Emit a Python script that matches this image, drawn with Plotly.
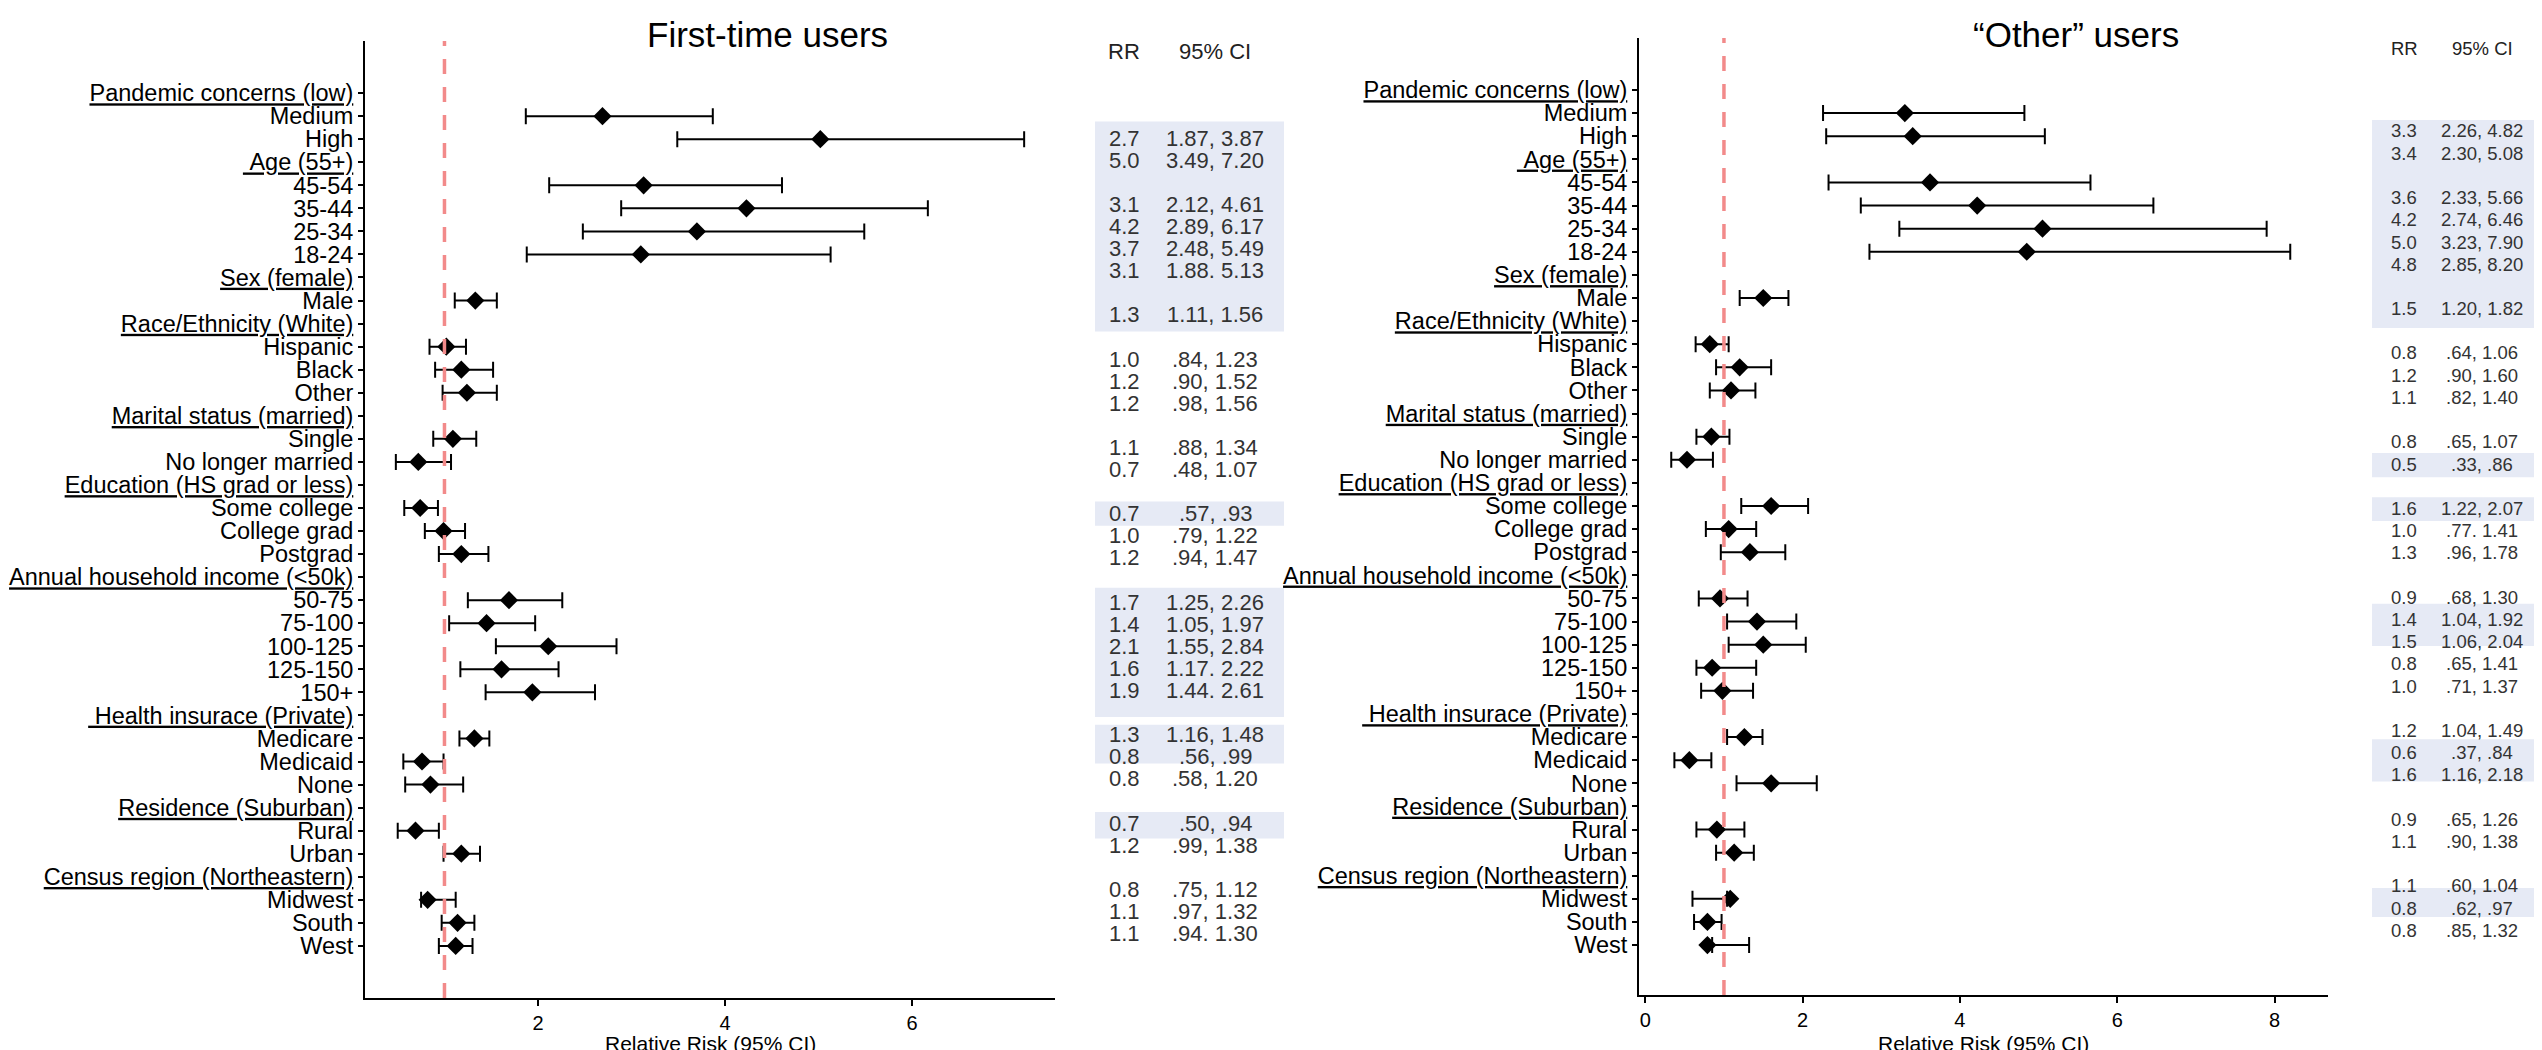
import plotly.graph_objects as go

W, H = 2542, 1050
FONT = "Liberation Sans, Arial, sans-serif"

# ---------------- data ----------------
groups = [
    ("Pandemic concerns (low)", ["Medium", "High"]),
    ("\u00a0Age (55+)", ["45-54", "35-44", "25-34", "18-24"]),
    ("Sex (female)", ["Male"]),
    ("Race/Ethnicity (White)", ["Hispanic", "Black", "Other"]),
    ("Marital status (married)", ["Single", "No longer married"]),
    ("Education (HS grad or less)", ["Some college", "College grad", "Postgrad"]),
    ("Annual household income (<50k)", ["50-75", "75-100", "100-125", "125-150", "150+"]),
    ("\u00a0Health insurace (Private)", ["Medicare", "Medicaid", "None"]),
    ("Residence (Suburban)", ["Rural", "Urban"]),
    ("Census region (Northeastern)", ["Midwest", "South", "West"]),
]

# First-time users (point estimates as plotted, CI bounds)
first_rr = [2.69, 5.02, 3.13, 4.23, 3.70, 3.10, 1.33, 1.02, 1.18, 1.24, 1.09, 0.72,
            0.74, 0.99, 1.18, 1.69, 1.45, 2.11, 1.61, 1.94, 1.32, 0.76, 0.85, 0.69,
            1.18, 0.82, 1.14, 1.12]
first_lo = [1.87, 3.49, 2.12, 2.89, 2.48, 1.88, 1.11, 0.84, 0.90, 0.98, 0.88, 0.48,
            0.57, 0.79, 0.94, 1.25, 1.05, 1.55, 1.17, 1.44, 1.16, 0.56, 0.58, 0.50,
            0.99, 0.75, 0.97, 0.94]
first_hi = [3.87, 7.20, 4.61, 6.17, 5.49, 5.13, 1.56, 1.23, 1.52, 1.56, 1.34, 1.07,
            0.93, 1.22, 1.47, 2.26, 1.97, 2.84, 2.22, 2.61, 1.48, 0.99, 1.20, 0.94,
            1.38, 1.12, 1.32, 1.30]
first_rr_txt = ["2.7", "5.0", "3.1", "4.2", "3.7", "3.1", "1.3", "1.0", "1.2", "1.2", "1.1", "0.7",
                "0.7", "1.0", "1.2", "1.7", "1.4", "2.1", "1.6", "1.9", "1.3", "0.8", "0.8", "0.7",
                "1.2", "0.8", "1.1", "1.1"]
first_ci_txt = ["1.87, 3.87", "3.49, 7.20", "2.12, 4.61", "2.89, 6.17", "2.48, 5.49", "1.88. 5.13",
                "1.11, 1.56", ".84, 1.23", ".90, 1.52", ".98, 1.56", ".88, 1.34", ".48, 1.07",
                ".57, .93", ".79, 1.22", ".94, 1.47", "1.25, 2.26", "1.05, 1.97", "1.55, 2.84",
                "1.17. 2.22", "1.44. 2.61", "1.16, 1.48", ".56, .99", ".58, 1.20", ".50, .94",
                ".99, 1.38", ".75, 1.12", ".97, 1.32", ".94. 1.30"]

# "Other" users
other_rr = [3.30, 3.40, 3.62, 4.22, 5.05, 4.85, 1.50, 0.82, 1.20, 1.09, 0.84, 0.53,
            1.60, 1.06, 1.33, 0.95, 1.42, 1.50, 0.85, 0.98, 1.26, 0.56, 1.60, 0.91,
            1.13, 1.08, 0.79, 0.79]
other_lo = [2.26, 2.30, 2.33, 2.74, 3.23, 2.85, 1.20, 0.64, 0.90, 0.82, 0.65, 0.33,
            1.22, 0.77, 0.96, 0.68, 1.04, 1.06, 0.65, 0.71, 1.04, 0.37, 1.16, 0.65,
            0.90, 0.60, 0.62, 0.85]
other_hi = [4.82, 5.08, 5.66, 6.46, 7.90, 8.20, 1.82, 1.06, 1.60, 1.40, 1.07, 0.86,
            2.07, 1.41, 1.78, 1.30, 1.92, 2.04, 1.41, 1.37, 1.49, 0.84, 2.18, 1.26,
            1.38, 1.04, 0.97, 1.32]
other_rr_txt = ["3.3", "3.4", "3.6", "4.2", "5.0", "4.8", "1.5", "0.8", "1.2", "1.1", "0.8", "0.5",
                "1.6", "1.0", "1.3", "0.9", "1.4", "1.5", "0.8", "1.0", "1.2", "0.6", "1.6", "0.9",
                "1.1", "1.1", "0.8", "0.8"]
other_ci_txt = ["2.26, 4.82", "2.30, 5.08", "2.33, 5.66", "2.74, 6.46", "3.23, 7.90", "2.85, 8.20",
                "1.20, 1.82", ".64, 1.06", ".90, 1.60", ".82, 1.40", ".65, 1.07", ".33, .86",
                "1.22, 2.07", ".77. 1.41", ".96, 1.78", ".68, 1.30", "1.04, 1.92", "1.06, 2.04",
                ".65, 1.41", ".71, 1.37", "1.04, 1.49", ".37, .84", "1.16, 2.18", ".65, 1.26",
                ".90, 1.38", ".60, 1.04", ".62, .97", ".85, 1.32"]

titles = ["First-time users", "\u201cOther\u201d users"]
x_title = "Relative Risk (95% CI)"

# ---------------- layout helpers ----------------
def px(x):
    return x / W

def py(y):
    return 1 - y / H

labels, is_header, item_rows, table_lines = [], [], [], []
line = 0
for head, items in groups:
    labels.append(head)
    is_header.append(True)
    for it in items:
        item_rows.append(len(labels))
        labels.append(it)
        is_header.append(False)
        table_lines.append(line)
        line += 1
    line += 1

n_rows = len(labels)
ticktext = [("<u>" + l + "</u>") if h else l for l, h in zip(labels, is_header)]

def full(vals):
    out = [None] * n_rows
    for r, v in zip(item_rows, vals):
        out[r] = v
    return out

panels = [
    dict(rr=first_rr, lo=first_lo, hi=first_hi, rrt=first_rr_txt, cit=first_ci_txt,
         xdom=(357, 1047), ydom=(33, 990), yrange=[39.26, -2.26], xrange=[0.15, 7.53],
         title_x=759, tab_rr_x=1116, tab_ci_x=1207, tab_y0=130, tab_dy=22.1, tab_head_y=43,
         tab_size=22, box_x=(1087, 1276),
         boxes=[(-0.75, 8.75), (16.45, 17.55), (20.35, 26.2), (26.55, 28.3), (30.5, 31.7)],
         xt="x", yt="y"),
    dict(rr=other_rr, lo=other_lo, hi=other_hi, rrt=other_rr_txt, cit=other_ci_txt,
         xdom=(1631, 2320), ydom=(30, 987), yrange=[39.16, -2.25], xrange=[-0.08, 8.68],
         title_x=2068, tab_rr_x=2396, tab_ci_x=2474, tab_y0=123, tab_dy=22.2, tab_head_y=41,
         tab_size=18.5, box_x=(2364, 2526),
         boxes=[(-0.5, 8.87), (14.5, 15.6), (16.5, 17.57), (21.3, 23.2), (27.4, 29.3), (34.1, 35.4)],
         xt="x2", yt="y2"),
]

fig = go.Figure()
shapes, annotations = [], []

for i, p in enumerate(panels):
    rr_full = full(p["rr"])
    plus = full([h - r for h, r in zip(p["hi"], p["rr"])])
    minus = full([r - l for r, l in zip(p["rr"], p["lo"])])
    fig.add_trace(go.Scatter(
        x=rr_full, y=list(range(n_rows)), mode="markers",
        marker=dict(symbol="diamond", size=14, color="black"),
        error_x=dict(type="data", symmetric=False, array=plus, arrayminus=minus,
                     color="black", thickness=2, width=8),
        xaxis=p["xt"], yaxis=p["yt"], showlegend=False, cliponaxis=False))

    sfx = "" if i == 0 else "2"
    fig.update_layout(**{
        "xaxis" + sfx: dict(domain=[px(p["xdom"][0]), px(p["xdom"][1])], range=p["xrange"],
                            dtick=2, tick0=0, showline=True, linecolor="black", linewidth=2,
                            ticks="outside", ticklen=6, tickwidth=1.5, tickcolor="black",
                            showgrid=False, zeroline=False, anchor="y" + sfx,
                            tickfont=dict(family=FONT, size=20, color="black")),
        "yaxis" + sfx: dict(domain=[py(p["ydom"][1]), py(p["ydom"][0])], range=p["yrange"],
                            tickmode="array", tickvals=list(range(n_rows)), ticktext=ticktext,
                            showline=True, linecolor="black", linewidth=2,
                            ticks="outside", ticklen=5, tickwidth=1.5, tickcolor="black",
                            showgrid=False, zeroline=False, anchor="x" + sfx,
                            tickfont=dict(family=FONT, size=23.5, color="black")),
    })

    # x-axis title
    annotations.append(dict(text=x_title, xref="paper", yref="paper",
                            x=px((p["xdom"][0] + p["xdom"][1]) / 2), y=py(1035),
                            xanchor="center", yanchor="middle", showarrow=False,
                            font=dict(family=FONT, size=21, color="black")))

    # reference line at RR = 1
    shapes.append(dict(type="line", xref=p["xt"], yref=p["yt"] + " domain", x0=1, x1=1, y0=0, y1=1,
                       line=dict(color="#F28A8A", width=3.5, dash="15px,13px"), layer="above"))

    # highlight boxes behind table
    for a, b in p["boxes"]:
        shapes.append(dict(type="rect", xref="paper", yref="paper",
                           x0=px(p["box_x"][0]), x1=px(p["box_x"][1]),
                           y0=py(p["tab_y0"] + b * p["tab_dy"]), y1=py(p["tab_y0"] + a * p["tab_dy"]),
                           fillcolor="#E6EAF5", line=dict(width=0), layer="below"))

    # title
    annotations.append(dict(text=titles[i], xref="paper", yref="paper", x=px(p["title_x"]), y=py(27),
                            xanchor="center", yanchor="middle", showarrow=False,
                            font=dict(family=FONT, size=35, color="black")))
    # table headers
    for txt, xx in (("RR", p["tab_rr_x"]), ("95% CI", p["tab_ci_x"])):
        annotations.append(dict(text=txt, xref="paper", yref="paper", x=px(xx), y=py(p["tab_head_y"]),
                                xanchor="center", yanchor="middle", showarrow=False,
                                font=dict(family=FONT, size=p["tab_size"], color="#222222")))
    # table rows
    for ln, rt, ct in zip(table_lines, p["rrt"], p["cit"]):
        yy = py(p["tab_y0"] + ln * p["tab_dy"])
        annotations.append(dict(text=rt, xref="paper", yref="paper", x=px(p["tab_rr_x"]), y=yy,
                                xanchor="center", yanchor="middle", showarrow=False,
                                font=dict(family=FONT, size=p["tab_size"], color="#333333")))
        annotations.append(dict(text=ct, xref="paper", yref="paper", x=px(p["tab_ci_x"]), y=yy,
                                xanchor="center", yanchor="middle", showarrow=False,
                                font=dict(family=FONT, size=p["tab_size"], color="#333333")))

fig.update_layout(width=W, height=H, margin=dict(l=0, r=0, t=0, b=0),
                  paper_bgcolor="white", plot_bgcolor="white",
                  shapes=shapes, annotations=annotations, showlegend=False)

fig.write_html("out.html")
